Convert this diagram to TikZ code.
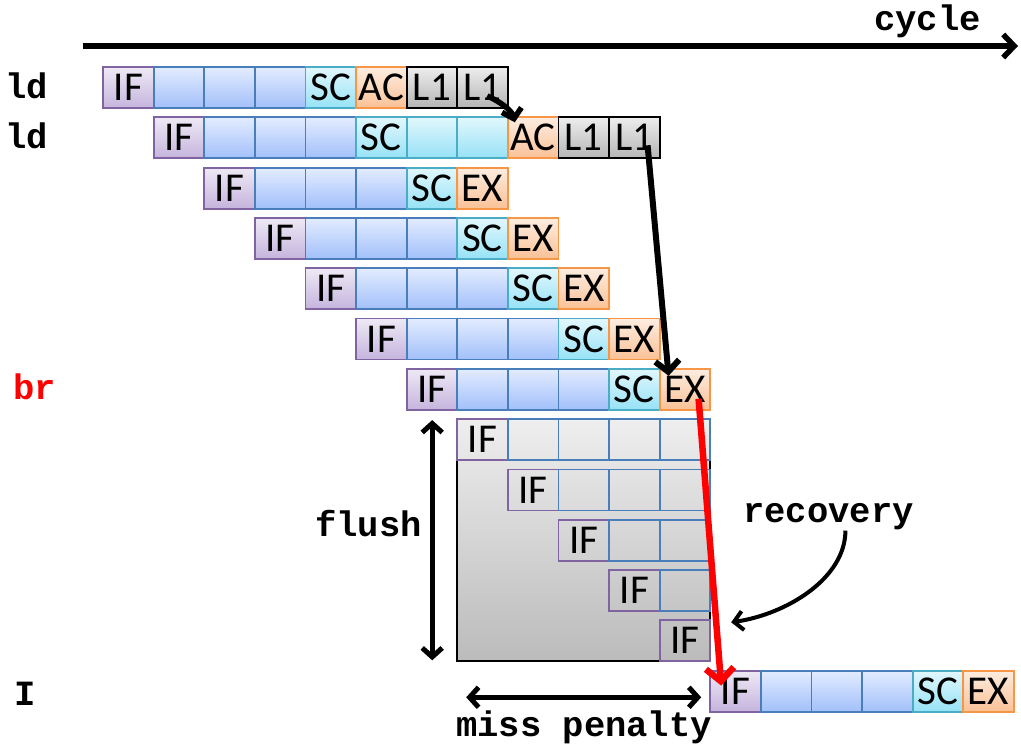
\documentclass[tikz,border=0pt]{standalone}
\usepackage{fontspec}
\usetikzlibrary{arrows.meta,calc}
\newfontfamily\stagefont{Carlito}
\newfontfamily\codefont{Liberation Mono}

% stage colours: border, gradient top, gradient bottom
\definecolor{ifdraw}{HTML}{8064A2}
\definecolor{iftop}{HTML}{EEE9F5}
\definecolor{ifbot}{HTML}{C5B4DD}
\definecolor{bldraw}{HTML}{4A7EBB}
\definecolor{bltop}{HTML}{E3ECFF}
\definecolor{blbot}{HTML}{A2C0FA}
\definecolor{scdraw}{HTML}{4BACC6}
\definecolor{sctop}{HTML}{E2F7FD}
\definecolor{scbot}{HTML}{96E2F6}
\definecolor{exdraw}{HTML}{F79646}
\definecolor{extop}{HTML}{FDEDE1}
\definecolor{exbot}{HTML}{FAC196}
\definecolor{lotop}{HTML}{EDEDED}
\definecolor{lobot}{HTML}{B5B5B5}
\definecolor{fltop}{HTML}{EEEEEE}
\definecolor{flbot}{HTML}{BBBBBB}
\definecolor{brred}{HTML}{FF0000}

% one pipeline stage: style, row, column, text
\newcommand\stagecell[4]{%
  \node[#1] (n#2-#3) at ({103+50.6*#3},{67+50.3*#2}) {#4};}

\begin{document}
\begin{tikzpicture}[x=1pt,y=-1pt,
  cell/.style={anchor=north west, minimum width=50.6pt, minimum height=41pt,
    inner sep=0pt, outer sep=0pt, line width=1.8pt,
    font=\stagefont\fontsize{41}{41}\selectfont},
  ifc/.style={cell, draw=ifdraw, top color=iftop, bottom color=ifbot},
  blc/.style={cell, draw=bldraw, top color=bltop, bottom color=blbot},
  scc/.style={cell, draw=scdraw, top color=sctop, bottom color=scbot},
  exc/.style={cell, draw=exdraw, top color=extop, bottom color=exbot},
  loc/.style={cell, draw=black, top color=lotop, bottom color=lobot},
  iffl/.style={cell, draw=ifdraw},
  blfl/.style={cell, draw=bldraw},
  lbl/.style={inner sep=0pt, font=\codefont\bfseries\fontsize{35.5}{35.5}\selectfont},
  dbl/.style={line width=5pt, {Straight Barb[length=9pt,width=20pt]}-{Straight Barb[length=9pt,width=20pt]}},
]
\useasboundingbox (0,0) rectangle (1021,747);

% time axis
\coordinate (tstart) at (83,46);
\coordinate (tend) at (1018,46);
\draw[line width=5.5pt, -{Straight Barb[length=11pt,width=23pt]}] (tstart) -- (tend);
\node[lbl, anchor=base east] (cyc) at (981,30) {cycle};

% instruction labels
\node[lbl, anchor=base west] (lda) at (5,98) {ld};
\node[lbl, anchor=base west] (ldb) at (5,148) {ld};
\node[lbl, anchor=base west, text=brred] (brl) at (13,399) {br};
\node[lbl, anchor=base west] (il) at (14,705) {I};

% first load
\stagecell{ifc}{0}{0}{IF}
\stagecell{blc}{0}{1}{}
\stagecell{blc}{0}{2}{}
\stagecell{blc}{0}{3}{}
\stagecell{scc}{0}{4}{SC}
\stagecell{exc}{0}{5}{AC}
\stagecell{loc}{0}{6}{L1}
\stagecell{loc}{0}{7}{L1}

% dependent load
\stagecell{ifc}{1}{1}{IF}
\stagecell{blc}{1}{2}{}
\stagecell{blc}{1}{3}{}
\stagecell{blc}{1}{4}{}
\stagecell{scc}{1}{5}{SC}
\stagecell{scc}{1}{6}{}
\stagecell{scc}{1}{7}{}
\stagecell{exc}{1}{8}{AC}
\stagecell{loc}{1}{9}{L1}
\stagecell{loc}{1}{10}{L1}

% ordinary instructions and the branch
\foreach \r in {2,...,6}{
  \foreach \k/\sty/\txt in {0/ifc/IF,1/blc/,2/blc/,3/blc/,4/scc/SC,5/exc/EX}{
    \pgfmathtruncatemacro\cc{\r+\k}
    \stagecell{\sty}{\r}{\cc}{\txt}
  }
}

% flushed wrong-path instructions
\node[cell, draw=black, top color=fltop, bottom color=flbot,
  minimum width=253pt, minimum height=242.2pt] (fbox) at (457.2,419.1) {};
\foreach \r in {7,...,10}{
  \stagecell{iffl}{\r}{\r}{IF}
  \pgfmathtruncatemacro\a{\r+1}
  \foreach \c in {\a,...,11}{\stagecell{blfl}{\r}{\c}{}}
}
\stagecell{iffl}{11}{11}{IF}

% correct-path instruction
\stagecell{ifc}{12}{12}{IF}
\stagecell{blc}{12}{13}{}
\stagecell{blc}{12}{14}{}
\stagecell{blc}{12}{15}{}
\stagecell{scc}{12}{16}{SC}
\stagecell{exc}{12}{17}{EX}

% data dependences
\draw[line width=5.5pt, -{Straight Barb[length=9pt,width=20pt]}]
  ([xshift=30pt,yshift=12pt]n0-7.south west) .. controls +(12,5) and +(-3,-12) ..
  ([xshift=7pt,yshift=-5pt]n1-8.north west);
\draw[line width=6pt, -{Straight Barb[length=11pt,width=24pt]}]
  ([xshift=-12pt,yshift=-28pt]n1-10.north east) -- ([xshift=9pt,yshift=-7pt]n6-11.north west);

% branch resolution
\draw[brred, line width=6.5pt, -{Straight Barb[length=13pt,width=28pt]}]
  ([xshift=39pt,yshift=-30pt]n6-11.north west) -- ([xshift=11pt,yshift=-15pt]n12-12.north west);

% flush extent
\draw[dbl] ([xshift=-25pt,yshift=-1pt]fbox.north west) -- ([xshift=-25pt,yshift=1pt]fbox.south west);
\node[lbl, anchor=base east] (flushl) at (422,536) {flush};

% recovery
\node[lbl, anchor=base west] (rec) at (743,522) {recovery};
\draw[line width=4pt, -{Straight Barb[length=9pt,width=19pt]}]
  ([xshift=17pt,yshift=-1pt]rec.south) .. controls +(0,48) and +(55,-8) ..
  ([xshift=21pt,yshift=39pt]fbox.south east);

% miss penalty
\draw[dbl] ([xshift=9pt,yshift=-36pt]fbox.south west) -- ([xshift=-9pt,yshift=-36pt]fbox.south east);
\node[lbl, anchor=base west] (miss) at (456,736) {miss penalty};
\end{tikzpicture}
\end{document}
